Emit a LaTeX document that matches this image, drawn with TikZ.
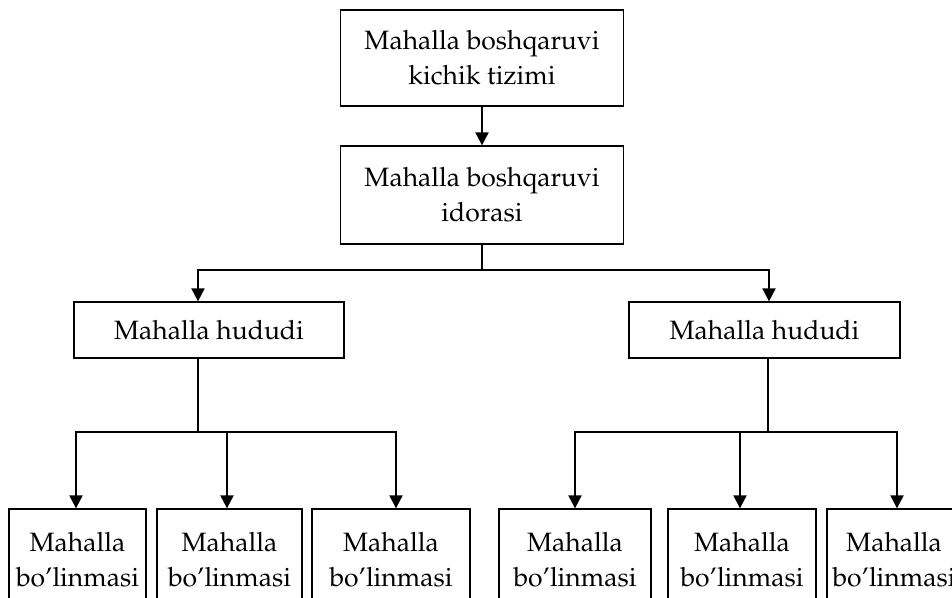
\documentclass[tikz,border=0pt]{standalone}
\usepackage[T1]{fontenc}
\usepackage{mathpazo}
\usetikzlibrary{arrows.meta}
\tikzset{
  box/.style={draw, line width=1.3pt, align=center, inner sep=0pt,
    font=\fontsize{26.5}{35}\selectfont},
  conn/.style={line width=2pt},
  arr/.style={line width=2pt, -{Triangle[width=13pt,length=13pt]}},
}
\begin{document}
\begin{tikzpicture}[x=1pt,y=-1pt]
\fill[white] (0,0) rectangle (952,597);
\useasboundingbox (0,0) rectangle (952,597);
\clip (0,0) rectangle (952,597);
\node[box, minimum width=283pt, minimum height=96pt] (sys) at (482,58) {Mahalla boshqaruvi\\kichik tizimi};
\node[box, minimum width=283pt, minimum height=98pt] (off) at (482,195) {Mahalla boshqaruvi\\idorasi};
\node[box, minimum width=270pt, minimum height=56pt] (h1) at (209,330) {Mahalla hududi};
\node[box, minimum width=271pt, minimum height=56pt] (h2) at (764.5,330) {Mahalla hududi};
\node[box, minimum width=137pt, minimum height=102pt] (b1) at (77.5,560) {Mahalla\\bo'linmasi};
\node[box, minimum width=145pt, minimum height=102pt] (b2) at (229.5,560) {Mahalla\\bo'linmasi};
\node[box, minimum width=158pt, minimum height=102pt] (b3) at (391,560) {Mahalla\\bo'linmasi};
\node[box, minimum width=152pt, minimum height=102pt] (b4) at (575,560) {Mahalla\\bo'linmasi};
\node[box, minimum width=148pt, minimum height=102pt] (b5) at (742,560) {Mahalla\\bo'linmasi};
\node[box, minimum width=134pt, minimum height=102pt] (b6) at (894,560) {Mahalla\\bo'linmasi};
% junction coordinates
\coordinate (j0) at (482,270);
\coordinate (jl) at (198,432);
\coordinate (jr) at (768,432);
\draw[arr] (sys) -- (off);
\draw[conn] (off) -- (j0);
\draw[arr] (j0) -| ([xshift=-11pt]h1.north);
\draw[arr] (j0) -| ([xshift=4.5pt]h2.north);
\draw[conn] ([xshift=-11pt]h1.south) -- (jl);
\draw[arr] (jl) -| ([xshift=-1.5pt]b1.north);
\draw[arr] (jl) -| ([xshift=-2.5pt]b2.north);
\draw[arr] (jl) -| ([xshift=5pt]b3.north);
\draw[conn] ([xshift=3.5pt]h2.south) -- (jr);
\draw[arr] (jr) -| (b4.north);
\draw[arr] (jr) -| ([xshift=-2pt]b5.north);
\draw[arr] (jr) -| ([xshift=3pt]b6.north);
\end{tikzpicture}
\end{document}
